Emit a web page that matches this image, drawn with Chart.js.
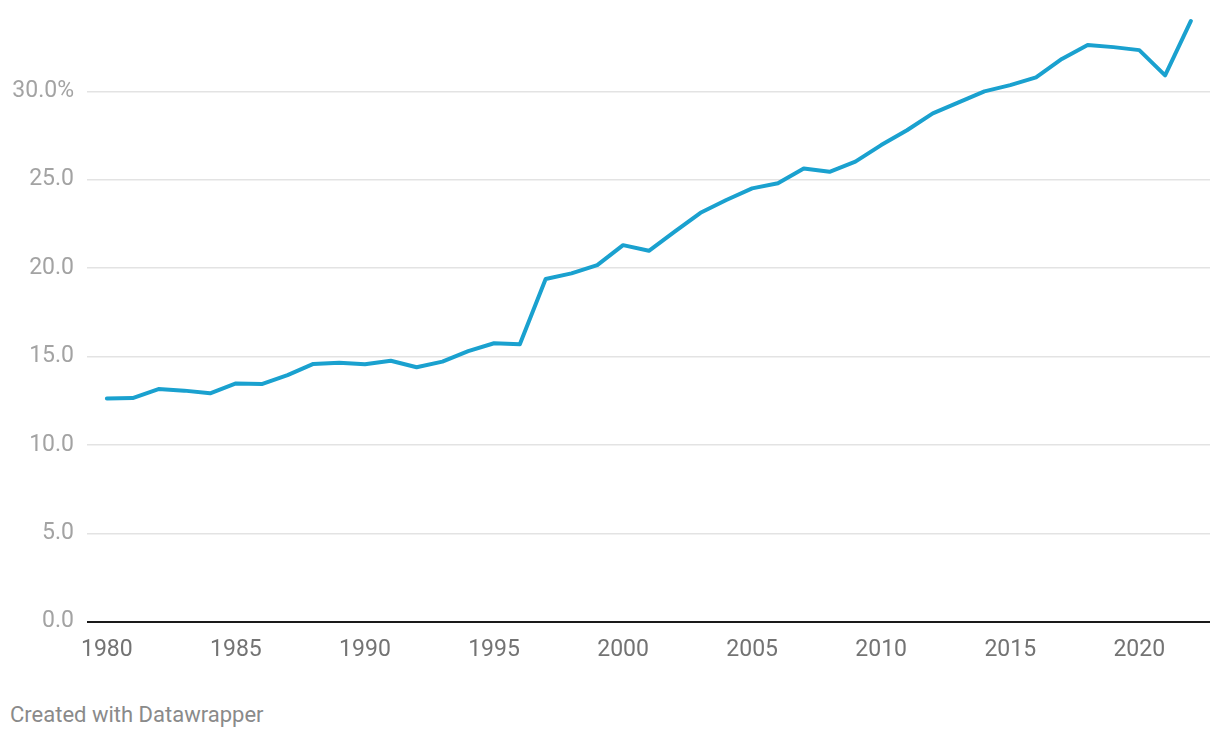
<!DOCTYPE html>
<html lang="en">
<head>
  <meta charset="UTF-8" />
  <title>Line chart</title>
  <script src="https://cdn.jsdelivr.net/npm/chart.js"></script>
  <style>
    body {
      margin: 0;
      background: #fff;
      font-family: Roboto, Arial, sans-serif;
    }
    #wrap {
      position: relative;
      width: 1220px;
      height: 738px;
    }
    .credit {
      position: absolute;
      left: 10px;
      top: 702px;
      font-size: 22px;
      line-height: 26px;
      color: #8a8a8a;
    }
  </style>
</head>
<body>
  <div id="wrap">
    <canvas id="chart" width="1220" height="680"></canvas>
    <div class="credit">Created with Datawrapper</div>
  </div>

  <script>
    const years = [1980, 1981, 1982, 1983, 1984, 1985, 1986, 1987, 1988, 1989,
      1990, 1991, 1992, 1993, 1994, 1995, 1996, 1997, 1998, 1999,
      2000, 2001, 2002, 2003, 2004, 2005, 2006, 2007, 2008, 2009,
      2010, 2011, 2012, 2013, 2014, 2015, 2016, 2017, 2018, 2019,
      2020, 2021, 2022];
    const shares = [12.63, 12.65, 13.16, 13.07, 12.92, 13.48, 13.44, 13.95, 14.58, 14.65,
      14.56, 14.76, 14.39, 14.71, 15.3, 15.75, 15.69, 19.38, 19.7, 20.17,
      21.3, 20.98, 22.06, 23.13, 23.85, 24.51, 24.8, 25.64, 25.45, 26.02,
      26.96, 27.8, 28.75, 29.37, 30.0, 30.35, 30.79, 31.83, 32.62, 32.5,
      32.33, 30.9, 33.98];
    const xTicks = [1980, 1985, 1990, 1995, 2000, 2005, 2010, 2015, 2020];
    const yTicks = [0, 5, 10, 15, 20, 25, 30];

    const points = years.map((y, i) => ({ x: y, y: shares[i] }));

    new Chart(document.getElementById('chart'), {
      type: 'line',
      data: {
        datasets: [{
          data: points,
          borderColor: '#1aa1cf',
          borderWidth: 4,
          pointRadius: 0,
          tension: 0,
          borderJoinStyle: 'round',
          borderCapStyle: 'round'
        }]
      },
      options: {
        responsive: false,
        animation: false,
        layout: { padding: { top: 10, right: 10, left: 0, bottom: 0 } },
        plugins: {
          legend: { display: false },
          tooltip: { enabled: false }
        },
        scales: {
          x: {
            type: 'linear',
            min: 1979.23,
            max: 2022.74,
            afterBuildTicks: axis => { axis.ticks = xTicks.map(v => ({ value: v })); },
            afterFit: axis => { axis.height = 680 - 621.7; },
            grid: { display: false },
            border: { display: false },
            ticks: {
              padding: 7,
              color: '#737373',
              font: { family: 'Roboto', size: 23 },
              callback: v => String(v)
            }
          },
          y: {
            min: 0,
            max: 34.6,
            afterBuildTicks: axis => { axis.ticks = yTicks.map(v => ({ value: v })); },
            afterFit: axis => {
              axis.width = 87;
              // top tick is not at the edge, so no label room needed there
              axis.paddingTop = 0;
              axis.paddingBottom = 0;
            },
            border: { display: false },
            grid: {
              drawTicks: false,
              color: c => c.tick && c.tick.value === 0 ? '#1a1a1a' : '#e3e3e3',
              lineWidth: c => c.tick && c.tick.value === 0 ? 2 : 1.5
            },
            ticks: {
              padding: 13,
              color: '#a3a3a3',
              font: { family: 'Roboto', size: 23 },
              callback: v => v === 30 ? '30.0%' : v.toFixed(1)
            }
          }
        }
      }
    });
  </script>
</body>
</html>
